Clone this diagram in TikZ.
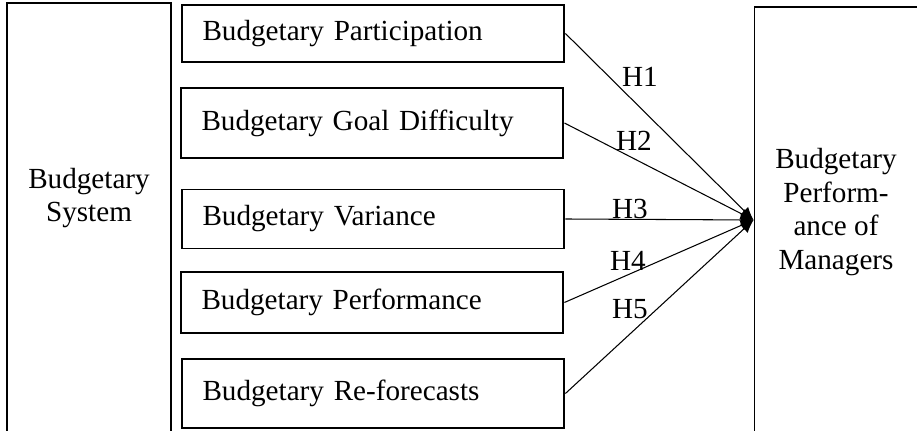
\documentclass[tikz,border=0pt]{standalone}
\usepackage{fontspec}
\setmainfont{Liberation Serif}
\usetikzlibrary{arrows.meta}

\begin{document}
\begin{tikzpicture}[x=0.02cm,y=-0.02cm,
    font=\fontsize{16.6}{19}\selectfont,
    box/.style={rectangle,draw,line width=1.1pt,text width=6.82cm,align=left,inner xsep=0.42cm,inner ysep=0pt},
    big box/.style={rectangle,draw,line width=1.1pt,inner sep=0pt},
    conn/.style={-{Latex[length=2.6mm,width=2.2mm]},line width=0.6pt},
    hyp/.style={inner sep=1pt}]
    \useasboundingbox (0,0) rectangle (917,431);
    \clip (0,0) rectangle (917,431);
    % outer blocks
    \node [big box, minimum width=3.28cm, minimum height=8.7cm] (sys) at (89,220) {};
    \node [align=center] (systext) at (89,198) {Budgetary\\System};
    \node [big box, minimum width=4.3cm, minimum height=8.52cm] (perf) at (862,220) {};
    \node [align=center] (perftext) at (836,212) {Budgetary\\Perform-\\ance of\\Managers};
    % dimensions
    \node [box, minimum height=1.14cm] (b1) at (373,33.5) {Budgetary Participation};
    \node [box, minimum height=1.4cm] (b2) at (372,123) {Budgetary Goal Difficulty};
    \node [box, minimum height=1.18cm] (b3) at (373,219) {Budgetary Variance};
    \node [box, minimum height=1.22cm] (b4) at (372,302.5) {Budgetary Performance};
    \node [box, minimum height=1.38cm] (b5) at (373,393.5) {Budgetary Re-forecasts};
    \foreach \i in {1,...,5}
        \draw [conn] (b\i.east) -- (perf.west);
    \node [hyp] (h1) at (640,77) {H1};
    \node [hyp] (h2) at (634,141) {H2};
    \node [hyp] (h3) at (630,209) {H3};
    \node [hyp] (h4) at (628,261) {H4};
    \node [hyp] (h5) at (630,309) {H5};
\end{tikzpicture}
\end{document}
